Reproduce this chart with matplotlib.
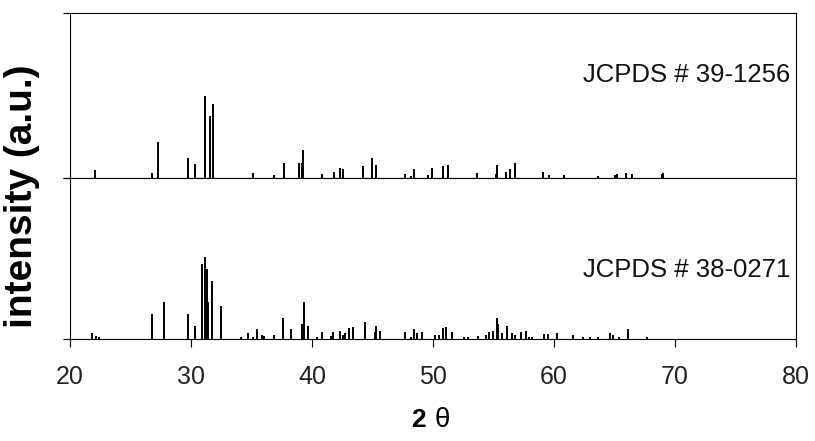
#!/usr/bin/env python3
"""
Reference stick patterns (JCPDS cards) drawn as two stacked panels sharing 2-theta.
"""
from __future__ import annotations

import matplotlib

matplotlib.use("Agg")
import matplotlib.pyplot as plt

# JCPDS # 39-1256 : 2-theta positions and relative intensities (max = 100)
card_top = "JCPDS # 39-1256"
top_2theta = [
    22.07, 26.75, 27.25, 29.78, 30.30, 31.18, 31.57, 31.82, 35.10, 36.90,
    37.66, 38.90, 39.15, 39.28, 40.80, 41.82, 42.31, 42.59, 44.24, 44.99,
    45.26, 47.69, 48.18, 48.43, 49.56, 49.94, 50.80, 51.21, 53.66, 55.18,
    55.26, 56.00, 56.39, 56.78, 59.06, 59.56, 60.83, 63.66, 65.01, 65.23,
    65.92, 66.42, 68.95, 69.03,
]
top_intensity = [
    10, 6, 44, 24, 17, 100, 76, 90, 6, 4,
    18, 18, 18, 34, 5, 7, 12, 11, 15, 24,
    16, 5, 2, 11, 4, 12, 15, 16, 6, 5,
    16, 7, 11, 18, 7, 4, 4, 2, 4, 5,
    6, 5, 5, 6,
]

# JCPDS # 38-0271
card_bottom = "JCPDS # 38-0271"
bottom_2theta = [
    21.79, 22.15, 22.42, 26.78, 27.80, 29.78, 30.30, 30.94, 31.16, 31.30,
    31.43, 31.71, 32.48, 34.10, 34.74, 35.10, 35.48, 35.84, 36.01, 36.89,
    37.63, 38.26, 39.20, 39.31, 39.70, 40.44, 40.80, 41.57, 41.71, 42.31,
    42.59, 42.73, 43.09, 43.36, 44.35, 45.22, 45.29, 45.62, 47.69, 48.15,
    48.43, 48.68, 49.06, 50.17, 50.52, 50.80, 51.07, 51.60, 52.59, 52.87,
    53.75, 54.38, 54.63, 54.99, 55.26, 55.40, 55.73, 56.14, 56.53, 56.78,
    57.27, 57.69, 57.96, 58.21, 59.17, 59.53, 60.27, 61.60, 62.42, 62.97,
    63.66, 64.63, 64.85, 65.40, 66.14, 67.66,
]
bottom_intensity = [
    7, 4, 2, 30, 45, 30, 16, 91, 100, 85,
    45, 71, 40, 2, 7, 2, 12, 5, 4, 5,
    26, 12, 18, 45, 16, 2, 9, 4, 9, 10,
    5, 7, 13, 15, 21, 9, 16, 10, 9, 2,
    12, 7, 9, 5, 5, 13, 15, 9, 2, 2,
    4, 5, 9, 10, 26, 18, 7, 16, 7, 5,
    9, 10, 2, 2, 6, 6, 7, 5, 2, 2,
    2, 7, 5, 2, 12, 2,
]

x_ticks = [20, 30, 40, 50, 60, 70, 80]

FONT = ["Liberation Sans", "DejaVu Sans"]


def style_panel(ax, ymax: float, show_x: bool) -> None:
    ax.set_xlim(20, 80)
    ax.set_ylim(0, ymax)
    ax.set_yticks([0, ymax])
    ax.set_yticklabels([])
    ax.tick_params(axis="y", direction="out", length=5, width=0.8)
    for s in ax.spines.values():
        s.set_linewidth(0.8)
    if show_x:
        ax.set_xticks(x_ticks)
        ax.tick_params(axis="x", direction="out", length=6, width=0.8, pad=13, labelsize=18)
        for lab in ax.get_xticklabels():
            lab.set_family(FONT)
            lab.set_color("#222222")
    else:
        ax.set_xticks([])


def main() -> None:
    fig = plt.figure(figsize=(8.15, 4.41), dpi=100)
    left, width = 0.0859, 0.8908
    ax_top = fig.add_axes([left, 0.5964, width, 0.3741])
    ax_bot = fig.add_axes([left, 0.2313, width, 0.3651])

    ax_top.vlines(top_2theta, 0, top_intensity, color="black", lw=1.4)
    ax_bot.vlines(bottom_2theta, 0, bottom_intensity, color="black", lw=1.4)

    style_panel(ax_top, 201, show_x=False)
    style_panel(ax_bot, 196, show_x=True)

    ax_top.text(0.992, 0.624, card_top, transform=ax_top.transAxes, ha="right", va="center",
                fontsize=18.5, family=FONT, color="#111111")
    ax_bot.text(0.992, 0.43, card_bottom, transform=ax_bot.transAxes, ha="right", va="center",
                fontsize=18.5, family=FONT, color="#111111")

    fig.text(0.027, 0.556, "intensity (a.u.)", rotation=90, ha="center", va="center",
             fontsize=28, fontweight="bold", family=FONT)
    fig.text(0.513, 0.0476, "2", ha="center", va="center", fontsize=19, fontweight="bold", family=FONT)
    fig.text(0.543, 0.0476, "θ", ha="center", va="center", fontsize=20, family=FONT)

    fig.savefig("out.png", dpi=100)


if __name__ == "__main__":
    main()
